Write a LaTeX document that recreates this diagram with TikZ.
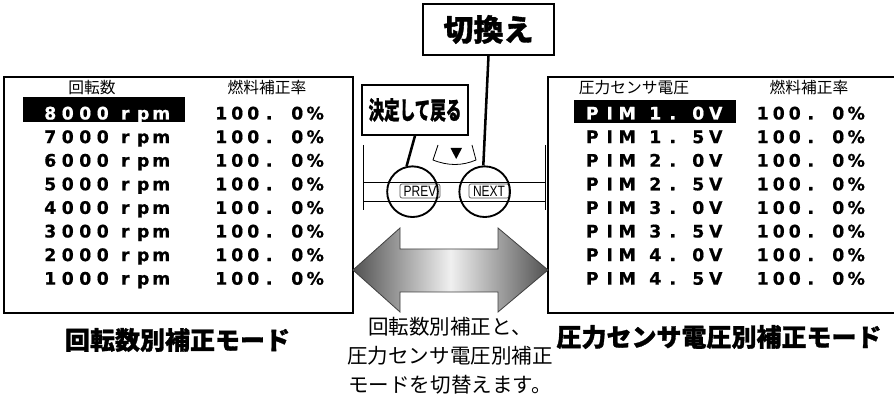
\documentclass[tikz,border=0pt]{standalone}
\usepackage{graphicx}
\usepackage{fontspec}
\newfontfamily\jp{Noto Sans CJK JP}
\newfontfamily\jph[BoldFeatures={FakeBold=1.2}]{Noto Sans CJK JP}
\newfontfamily\dv[BoldFeatures={FakeBold=0.6}]{DejaVu Sans}
\newfontfamily\lib{Liberation Sans}
\newcommand\cells[2]{\def\cellw{#1}\cellsaux#2\relax}
\def\cellsaux#1{\ifx#1\relax\else\makebox[\cellw][c]{#1}\expandafter\cellsaux\fi}
\tikzset{
  frame/.style={line width=1.1pt},
  rowtxt/.style={inner sep=0pt, anchor=base west, font=\dv\bfseries\fontsize{13pt}{13pt}\selectfont},
  head/.style={inner sep=0pt, font=\jp\fontsize{11.8pt}{12pt}\selectfont},
  lblbox/.style={draw, line width=1.1pt, fill=white, inner sep=0pt},
  conn/.style={line width=1.9pt},
  ring/.style={draw, circle, line width=1.4pt, inner sep=0pt, minimum size=38pt},
  btn/.style={draw, rounded corners=1.5pt, line width=0.5pt, inner sep=0pt, minimum width=30pt, minimum height=10.5pt, font=\lib\fontsize{11.25pt}{11.25pt}\selectfont},
  thin/.style={line width=0.6pt},
  caption/.style={inner sep=0pt, font=\jph\bfseries\fontsize{18.75pt}{20pt}\selectfont},
}
\begin{document}
\begin{tikzpicture}[x=0.75pt,y=-0.75pt]
\useasboundingbox (0,0) rectangle (894,398);
% main frames
\draw[frame] (4,77) rectangle (353,313);
\draw[frame] (894,77) -- (548,77) -- (548,313) -- (894,313);
% headers
\node[head] (h1) at (92,88) {回転数};
\node[head] (h2) at (267,88) {燃料補正率};
\node[head] (h3) at (634,88) {圧力センサ電圧};
\node[head] (h4) at (809,88) {燃料補正率};
% highlight bars
\fill[black] (23,97) rectangle (185,122);
\fill[black] (574,100) rectangle (736,123);
% left rows
\foreach \i/\rr/\cc in {0/8/white,1/7/black,2/6/black,3/5/black,4/4/black,5/3/black,6/2/black,7/1/black}{
  \pgfmathsetmacro\yb{119.5+23.6*\i}
  \node[rowtxt, text=\cc] (la\i) at (41.25,\yb) {\cells{13.125pt}{\rr000}};
  \node[rowtxt, text=\cc] (lb\i) at (116,\yb) {\cells{13.5pt}{rpm}};
  \node[rowtxt] (lc\i) at (213,\yb) {\cells{12pt}{100.}};
  \node[rowtxt] (ld\i) at (288,\yb) {\cells{13.5pt}{0\%}};
}
% right rows
\foreach \i/\va/\vb/\cc in {0/1/0/white,1/1/5/black,2/2/0/black,3/2/5/black,4/3/0/black,5/3/5/black,6/4/0/black,7/4/5/black}{
  \pgfmathsetmacro\yb{119.5+23.6*\i}
  \node[rowtxt, text=\cc] (ra\i) at (583.25,\yb) {\cells{13.125pt}{PIM}};
  \node[rowtxt, text=\cc] (rb\i) at (646.25,\yb) {\cells{13.125pt}{\va.}};
  \node[rowtxt, text=\cc] (rc\i) at (689.25,\yb) {\cells{13.125pt}{\vb V}};
  \node[rowtxt] (rd\i) at (754.5,\yb) {\cells{12pt}{100.}};
  \node[rowtxt] (re\i) at (829,\yb) {\cells{13.5pt}{0\%}};
}
% remote panel
\draw[thin] (363,145) -- (363,210);
\draw[thin] (545,145) -- (545,210);
\draw[thin] (363,182) -- (545,182);
\draw[thin] (363,201) -- (545,201);
\draw[thin] (438,145) -- (433,160) .. controls (448,166) and (462,166) .. (476,160) -- (472,145);
\fill[black] (450.5,148) -- (462,148) -- (456.2,159) -- cycle;
\node[btn, draw=black!70] (prevb) at (420,191) {\scalebox{0.8}[1]{PREV}};
\node[btn, draw=black!70] (nextb) at (489,191) {\scalebox{0.8}[1]{NEXT}};
\node[ring] (prevc) at (412.5,191.7) {};
\node[ring] (nextc) at (484.7,191.7) {};
% label boxes
\node[lblbox, minimum width=79.5pt, minimum height=37.5pt, font=\jph\bfseries\fontsize{18.5pt}{18.5pt}\selectfont] (dec) at (415,110) {\scalebox{0.63}[1]{決定して戻る}};
\node[lblbox, minimum width=98.25pt, minimum height=38.25pt, font=\jph\bfseries\fontsize{22.5pt}{22.5pt}\selectfont] (kiri) at (488.5,29.5) {切換え};
\draw[conn] (dec.south) -- (prevc.103);
\draw[conn] (kiri.south) -- (nextc.93);
% double arrow
\shade[left color=black!68, right color=black!68, middle color=black!6, draw=black!75, line width=0.6pt]
  (353,270) -- (400,228) -- (400,249) -- (498,249) -- (498,228) -- (548,270)
  -- (498,312) -- (498,292) -- (400,292) -- (400,312) -- cycle;
% captions
\node[caption] (capl) at (177.5,340) {回転数別補正モード};
\node[caption] (capr) at (719,337) {圧力センサ電圧別補正モード};
\node[inner sep=0pt, align=center, font=\jp\fontsize{15.4pt}{21.75pt}\selectfont] (mid) at (450,356) {回転数別補正と、\\圧力センサ電圧別補正\\モードを切替えます。};
\end{tikzpicture}
\end{document}
